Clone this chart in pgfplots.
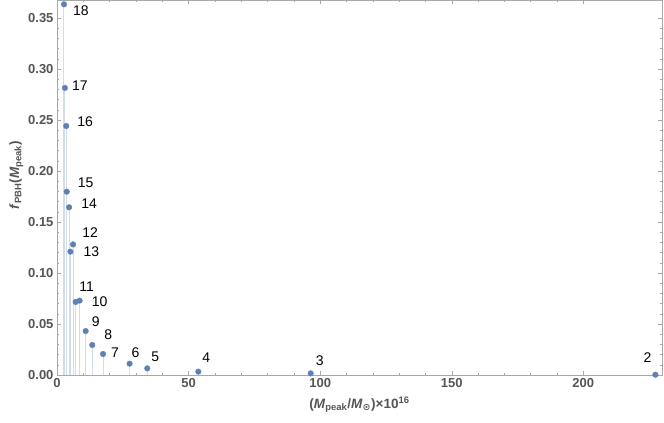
\documentclass[border=0pt]{standalone}
\usepackage{fontspec}
\setmainfont{Liberation Sans}
\newfontfamily\symfont{DejaVu Sans}
\usepackage{pgfplots}
\usepackage{pgfplotstable}
\pgfplotsset{compat=1.18}
\definecolor{mmablue}{HTML}{5E81B5}
\definecolor{ticklab}{HTML}{555555}
\definecolor{framegray}{HTML}{A8A8A8}

\pgfplotstableread{
x y lab dx dy
2.66 0.3634 18 17 -6
3.0 0.2814 17 15 2
3.5 0.2441 16 19 4
3.7 0.1797 15 19 9
4.6 0.1644 14 20 4
5.1 0.1209 13 21 0
6.1 0.1280 12 17 12
7.1 0.0716 11 11 15
8.6 0.0729 10 20 -1
10.9 0.0431 9 10 9
13.4 0.0294 8 16 10
17.5 0.0206 7 12 1
27.6 0.0111 6 6 11
34.3 0.0065 5 8 12
53.7 0.0033 4 8 14
96.4 0.0016 3 9 13
227.4 0.0003 2 -8 17
}\pbhdata

\begin{document}
\begin{tikzpicture}
\begin{axis}[
  scale only axis,width=605pt,height=375pt,
  xmin=0,xmax=229.9,ymin=0,ymax=0.3676,
  xtick={0,50,...,200},ytick={0,0.05,...,0.35},
  minor x tick num=4,minor y tick num=4,
  tick align=inside,major tick length=4pt,minor tick length=2.2pt,
  every tick/.style={framegray},
  axis line style={framegray},
  tick label style={font=\fontsize{13}{15}\selectfont\bfseries,text=ticklab},
  yticklabel style={/pgf/number format/.cd,fixed,fixed zerofill,precision=2},
  /pgf/number format/assume math mode=true,
  scaled y ticks=false,
  xlabel={(\textit{M}\textsubscript{peak}/\textit{M}\textsubscript{\symfont ⊙})×10\textsuperscript{16}},
  ylabel={\textit{f}\textsubscript{PBH}(\textit{M}\textsubscript{peak})},
  label style={font=\fontsize{13.5}{15}\selectfont\bfseries,text=ticklab},
  xlabel style={yshift=-2pt},
  ylabel style={at={(ticklabel cs:0.533)},yshift=-2pt},
  clip=false]
\addplot[ycomb,draw=mmablue,opacity=0.28,line width=1pt] table[x=x,y=y] {\pbhdata};
\addplot[only marks,mark=*,mark size=2.8pt,color=mmablue,
  point meta=explicit symbolic,
  visualization depends on={\thisrow{dx}\as\ldx},
  visualization depends on={\thisrow{dy}\as\ldy},
  nodes near coords,
  nodes near coords style={anchor=center,xshift=\ldx pt,yshift=\ldy pt,
    font=\fontsize{14}{16}\selectfont,text=black}]
  table[x=x,y=y,meta=lab] {\pbhdata};
\end{axis}
\pgfresetboundingbox
\path (-57pt,-48pt) rectangle (607pt,375pt);
\end{tikzpicture}
\end{document}
